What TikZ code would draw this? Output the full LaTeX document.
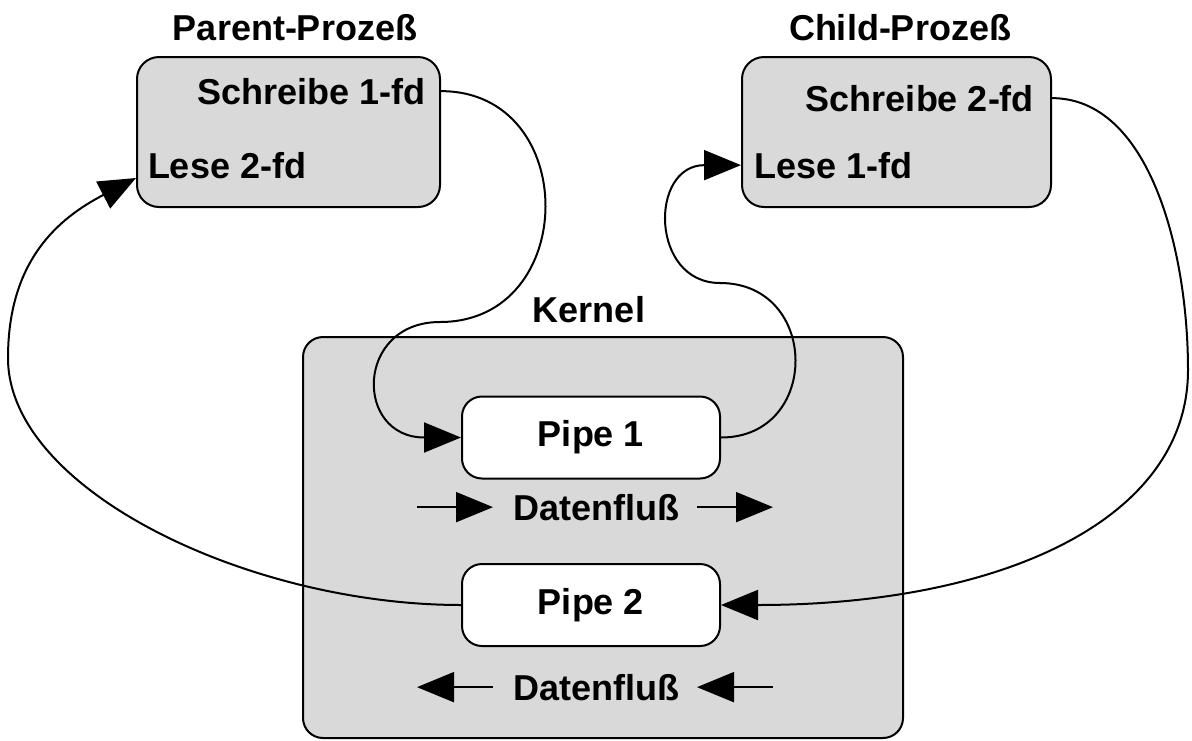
\documentclass[tikz,border=0pt]{standalone}
\usepackage{fontspec}
\setmainfont{Liberation Sans}
\usepackage{tikz}
\usetikzlibrary{arrows.meta}

\definecolor{boxgray}{RGB}{217,217,217}

\begin{document}
\begin{tikzpicture}[x=1pt, y=-1pt, line width=2pt,
    font=\fontsize{36}{43}\selectfont\bfseries,
    >={Triangle[length=37pt, width=30pt]},
    box/.style={draw, fill=boxgray, rounded corners=22pt},
    pipe/.style={draw, fill=white, rounded corners=20pt, minimum width=258pt, minimum height=82pt},
    txt/.style={inner sep=0pt}]
    \useasboundingbox (0,0) rectangle (1192,740);

    \node[box, minimum width=303pt, minimum height=150pt] (parent) at (288.5,132) {};
    \node[box, minimum width=309pt, minimum height=150pt] (child) at (896.5,132) {};
    \node[box, rounded corners=20pt, minimum width=600pt, minimum height=401pt] (kernel) at (603,537.5) {};

    \node[txt, anchor=base] (ptitle) at (295,40) {Parent-Prozeß};
    \node[txt, anchor=base] (ctitle) at (900,40) {Child-Prozeß};
    \node[txt, anchor=base] (ktitle) at (589,322) {Kernel};

    \node[txt, anchor=base east] (s1) at (427,104) {Schreibe 1-fd};
    \node[txt, anchor=base west] (l2) at (147,178) {Lese 2-fd};
    \node[txt, anchor=base east] (s2) at (1035,111) {Schreibe 2-fd};
    \node[txt, anchor=base west] (l1) at (753,178) {Lese 1-fd};

    \node[pipe] (pipe1) at (591,437.5) {Pipe 1};
    \node[pipe] (pipe2) at (591,605) {Pipe 2};

    \node[txt, anchor=base] (df1) at (596,520) {Datenfluß};
    \node[txt, anchor=base] (df2) at (596,700) {Datenfluß};

    \draw[->] ([xshift=-95pt]df1.west) -- ([xshift=-19pt]df1.west);
    \draw[->] ([xshift=17pt]df1.east) -- ([xshift=93pt]df1.east);
    \draw[->] ([xshift=-19pt]df2.west) -- ([xshift=-95pt]df2.west);
    \draw[->] ([xshift=93pt]df2.east) -- ([xshift=17pt]df2.east);

    \coordinate (w1) at (440,322);
    \coordinate (w2) at (720,283);
    \coordinate (w3) at (8,358);
    \coordinate (w4) at (1188,370);

    \draw[->] (parent.east |- s1.east) .. controls +(140,0) and +(140,0) .. (w1)
        .. controls +(-85,0) and +(-107,0) .. (pipe1.west);
    \draw[->] (pipe1.east) .. controls +(100,0) and +(100,0) .. (w2)
        .. controls +(-70,0) and +(-92,0) .. (child.west |- l1.west);
    \draw[->] (pipe2.west) .. controls +(-212,0) and +(0,132) .. (w3)
        .. controls +(0,-98) and +(-77,40) .. (parent.west |- l2.base);
    \draw[->] (child.east |- s2.east) .. controls +(97,0) and +(0,-120) .. (w4)
        .. controls +(0,150) and +(280,0) .. (pipe2.east);
\end{tikzpicture}
\end{document}
